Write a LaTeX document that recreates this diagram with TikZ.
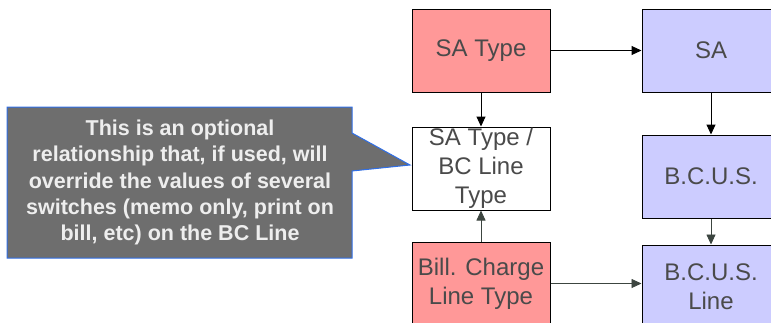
\documentclass[tikz,border=0pt]{standalone}
\usepackage{fontspec}
\setmainfont{Liberation Sans}
\usetikzlibrary{arrows.meta,positioning}
\definecolor{typered}{HTML}{FF9898}
\definecolor{entblue}{HTML}{CCCCFF}
\definecolor{notegray}{HTML}{6E6E6E}
\definecolor{noteedge}{HTML}{2F6FE8}
\definecolor{notetext}{HTML}{EEEEEE}
\definecolor{boxtext}{HTML}{4A4A4A}
\definecolor{linkgray}{HTML}{3C4540}

\begin{document}
\begin{tikzpicture}[x=1pt,y=-1pt,
    box/.style={draw=black,line width=1pt,minimum width=138pt,minimum height=83pt,
                inner sep=0pt,align=center,text=boxtext,font=\fontsize{24}{29}\selectfont},
    typebox/.style={box,fill=typered},
    entbox/.style={box,fill=entblue},
    link/.style={-{Triangle[length=10pt,width=9pt]},line width=1pt},
    softlink/.style={link,draw=linkgray,line width=0.8pt},
    note/.style={align=center,text=notetext,
                 font=\fontsize{21.5}{26.2}\selectfont\bfseries}]
    \clip (0,0) rectangle (771,322);
    % entity boxes
    \node[typebox] (satype) at (481,50.5) {SA Type};
    \node[entbox, right=91pt of satype] (sa) {SA};
    \node[box, fill=white, below=34pt of satype] (sabc) {SA Type /\\BC Line\\Type};
    \node[entbox, below=42pt of sa] (bcus) {B.C.U.S.};
    \node[typebox, below=31pt of sabc] (bct) {Bill. Charge\\Line Type};
    \node[entbox, below=26pt of bcus] (bcusl) {B.C.U.S.\\Line};
    % connectors
    \draw[link] (satype) -- (sa);
    \draw[link] (satype) -- (sabc);
    \draw[link] (sa) -- (bcus);
    \draw[softlink] (bcus) -- (bcusl);
    \draw[softlink] (bct) -- (sabc);
    \draw[softlink] (bct.east) -- (bct.east -| bcusl.west);
    % callout
    \coordinate (tip) at (410,165);
    \draw[fill=notegray, draw=noteedge, line width=1pt]
        (7,107) -- (352,107) -- (352,133) -- (tip) -- (352,171)
        -- (352,258) -- (7,258) -- cycle;
    \node[note] (remark) at (180,182.5)
        {This is an optional\\relationship that, if used, will\\override the values of several\\switches (memo only, print on\\bill, etc) on the BC Line};
\end{tikzpicture}
\end{document}
